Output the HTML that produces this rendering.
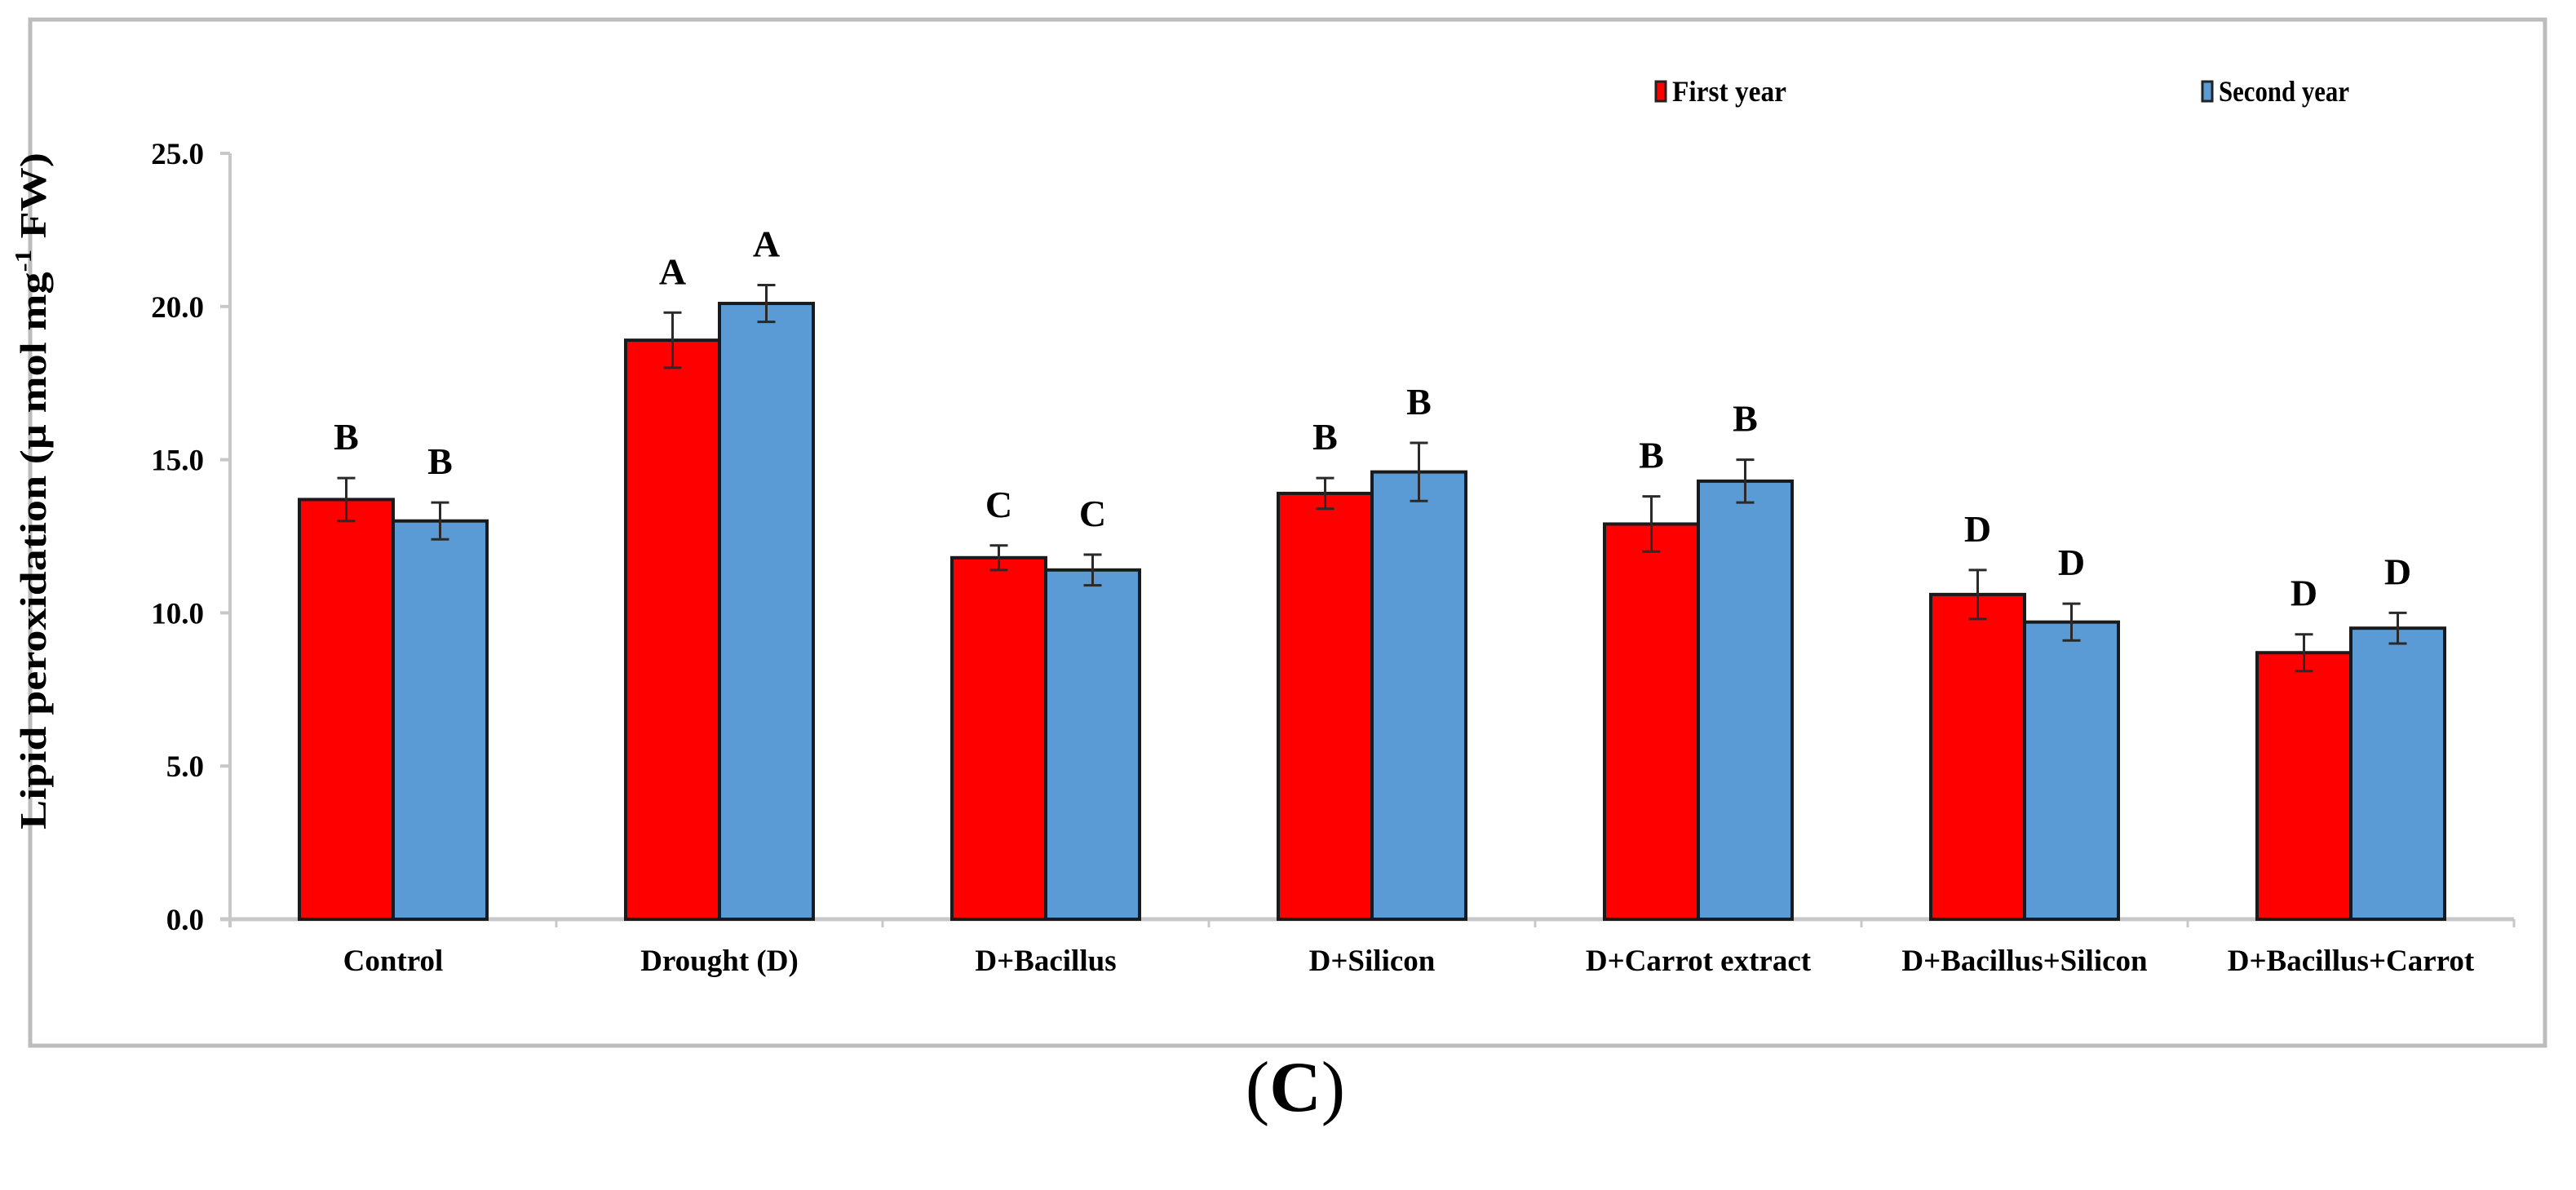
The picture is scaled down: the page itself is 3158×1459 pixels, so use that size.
<!DOCTYPE html>
<html><head><meta charset="utf-8"><style>
html,body{margin:0;padding:0;background:#fff;}
svg{display:block;}
text{font-family:"Liberation Serif",serif;font-weight:bold;fill:#000;}
</style></head><body>
<svg id="chart" width="3158" height="1459" viewBox="0 0 3158 1459" xmlns="http://www.w3.org/2000/svg">
<rect x="37" y="24" width="3083" height="1258" fill="#fff" stroke="#bcbcbc" stroke-width="5"/>
<g id="axes"></g><g id="bars"></g><g id="labels"></g>
<text x="56" y="602" font-size="46" text-anchor="middle" textLength="830" lengthAdjust="spacingAndGlyphs" transform="rotate(-90 56 602)">Lipid peroxidation (µ mol mg<tspan font-size="28" dy="-18">-1</tspan><tspan dy="18"> FW)</tspan></text>
<g>
<g>
<rect x="2030" y="100" width="12" height="24" fill="#ff0000" stroke="#222" stroke-width="3"/>
<text x="2050" y="124" font-size="36" textLength="140" lengthAdjust="spacingAndGlyphs">First year</text></g>
<g>
<rect x="2700" y="100" width="12" height="24" fill="#5b9bd5" stroke="#222" stroke-width="3"/>
<text x="2720" y="124" font-size="36" textLength="160" lengthAdjust="spacingAndGlyphs">Second year</text></g>
</g>
<text x="1588" y="1362" font-size="88" text-anchor="middle" style="font-weight:normal">(<tspan style="font-weight:bold">C</tspan>)</text>
</svg>
<script>
const categories = ["Control","Drought (D)","D+Bacillus","D+Silicon","D+Carrot extract","D+Bacillus+Silicon","D+Bacillus+Carrot"];
const firstYear = [13.7, 18.9, 11.8, 13.9, 12.9, 10.6, 8.7];
const secondYear = [13.0, 20.1, 11.4, 14.6, 14.3, 9.7, 9.5];
const firstErr = [0.7, 0.9, 0.4, 0.5, 0.9, 0.8, 0.6];
const secondErr = [0.6, 0.6, 0.5, 0.95, 0.7, 0.6, 0.5];
const firstLetters = ["B","A","C","B","B","D","D"];
const secondLetters = ["B","A","C","B","B","D","D"];
const yTicks = [0, 5, 10, 15, 20, 25];
const yTickLabels = ["0.0","5.0","10.0","15.0","20.0","25.0"];

const NS = "http://www.w3.org/2000/svg";
const X0 = 282, CW = 400, Y0 = 1127, YMAX = 25, PH = 939, BW = 115;
const yS = v => Y0 - v / YMAX * PH;
const xC = i => X0 + CW * (i + 0.5);
function mk(parent, tag, attrs, txt) {
  const e = document.createElementNS(NS, tag);
  for (const k in attrs) e.setAttribute(k, attrs[k]);
  if (txt !== undefined) e.textContent = txt;
  parent.appendChild(e);
  return e;
}
const axes = document.getElementById("axes");
const bars = document.getElementById("bars");
const labels = document.getElementById("labels");

let ya = mk(axes, "line", {x1: X0, y1: yS(25), x2: X0, y2: Y0 + 10, stroke: "#c8c8c8", "stroke-width": 4});


yTicks.forEach((t, i) => {
  mk(axes, "line", {x1: X0 - 12, y1: yS(t), x2: X0, y2: yS(t), stroke: "#c8c8c8", "stroke-width": 4});
  const tl = mk(axes, "text", {x: 250, y: yS(t) + 13, "font-size": 37, "text-anchor": "end"}, yTickLabels[i]);
  
  
});
let xa = mk(axes, "line", {x1: X0 - 12, y1: Y0, x2: X0 + CW * categories.length, y2: Y0, stroke: "#c8c8c8", "stroke-width": 5});


for (let i = 1; i <= categories.length; i++) {
  mk(axes, "line", {x1: X0 + CW * i, y1: Y0, x2: X0 + CW * i, y2: Y0 + 10, stroke: "#c8c8c8", "stroke-width": 3});
}
categories.forEach((c, i) => {
  const t = mk(labels, "text", {x: xC(i), y: Y0 + 63, "font-size": 37, "text-anchor": "middle"}, c);
  
  
});

function drawSeries(vals, errs, letters, offset, color, name) {
  vals.forEach((v, i) => {
    const x = xC(i) + offset;
    const r = mk(bars, "rect", {x: x, y: yS(v), width: BW, height: Y0 - yS(v), fill: color, stroke: "#1a1a1a", "stroke-width": 4});
    
    
    const cx = x + BW / 2, top = yS(v + errs[i]), bot = yS(v - errs[i]);
    const eb = mk(bars, "path", {d: `M${cx},${top}V${bot}M${cx-11},${top}H${cx+11}M${cx-11},${bot}H${cx+11}`, stroke: "#2a2a2a", "stroke-width": 3, fill: "none"});
    
    
    const lt = mk(labels, "text", {x: cx, y: top - 35, "font-size": 46, "text-anchor": "middle"}, letters[i]);
    
    
  });
}
drawSeries(firstYear, firstErr, firstLetters, -BW, "#ff0000", "first-year");
drawSeries(secondYear, secondErr, secondLetters, 0, "#5b9bd5", "second-year");
</script>
</body></html>
